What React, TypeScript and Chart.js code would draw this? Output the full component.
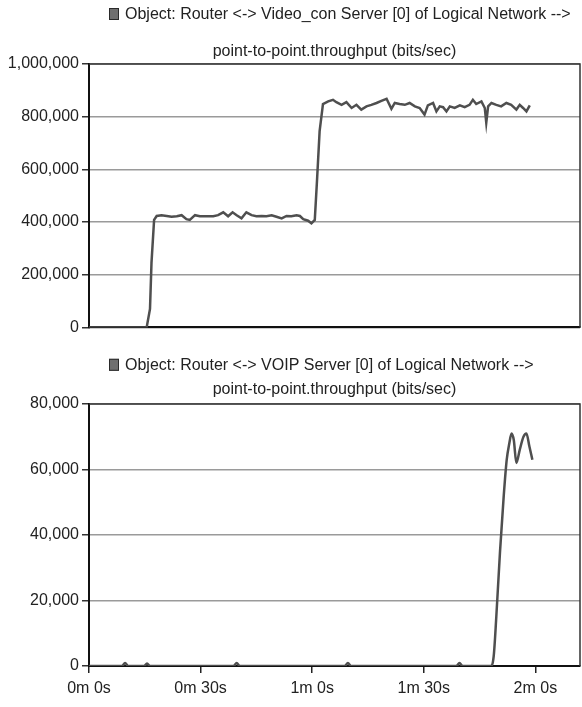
import React, { useEffect, useRef } from "react";
import { Chart, registerables } from "chart.js";

Chart.register(...registerables);

const FONT = "'Liberation Sans', Arial, sans-serif";

// ---- data ----
const videoLegend = "Object: Router <-> Video_con Server [0] of Logical Network -->";
const voipLegend = "Object: Router <-> VOIP Server [0] of Logical Network -->";
const statTitle = "point-to-point.throughput (bits/sec)";

const timeTicks = [0, 30, 60, 90, 120];
const videoYTicks = [0, 200000, 400000, 600000, 800000, 1000000];
const voipYTicks = [0, 20000, 40000, 60000, 80000];

const videoTimes = [
  0, 5, 10, 15.5, 16.4, 16.8, 17.5, 18.2, 19.5, 20.9, 22.2, 23.6, 24.9, 26.2, 27.1, 28.5, 29.8,
  31.6, 33.4, 34.7, 36.1, 37.4, 38.6, 39.7, 41.0, 42.3, 43.7, 45.0, 46.4, 47.7, 49.1, 50.4,
  51.8, 53.1, 54.4, 55.8, 56.7, 57.6, 58.9, 59.8, 60.7, 61.3, 62.0, 62.9, 64.3, 65.6, 66.5,
  67.9, 69.2, 70.6, 71.9, 73.2, 74.6, 75.9, 77.3, 78.6, 80.0, 81.3, 82.2, 83.5, 84.9, 86.2,
  87.6, 88.9, 90.2, 91.1, 92.5, 93.4, 94.3, 95.2, 96.1, 97.0, 98.3, 99.7, 101.0, 102.3, 103.2,
  104.1, 105.5, 106.4, 106.8, 107.3, 108.2, 109.5, 110.8, 112.2, 113.5, 114.9, 115.8, 116.7,
  117.6, 118.5,
];
const videoValues = [
  0, 0, 0, 0, 70000, 245000, 408000, 423000, 426000, 423000, 420000, 422000, 426000, 411000,
  408000, 426000, 422000, 422000, 422000, 426000, 437000, 422000, 437000, 426000, 414000,
  437000, 426000, 422000, 423000, 422000, 426000, 420000, 414000, 423000, 422000, 426000,
  423000, 411000, 405000, 395000, 408000, 558000, 745000, 848000, 858000, 864000, 855000,
  845000, 855000, 833000, 845000, 827000, 839000, 845000, 852000, 860000, 868000, 830000,
  852000, 848000, 845000, 852000, 839000, 833000, 808000, 843000, 852000, 820000, 839000,
  836000, 820000, 839000, 833000, 843000, 836000, 845000, 864000, 848000, 858000, 833000,
  777000, 839000, 852000, 845000, 839000, 852000, 845000, 827000, 845000, 833000, 820000,
  843000,
];

const voipTimes = [
  0, 8.9, 9.7, 10.5, 14.8, 15.6, 16.4, 38.9, 39.7, 40.5, 68.8, 69.6, 70.4, 98.8, 99.6, 100.4,
  108.0, 108.8, 109.5, 110.5, 111.5, 112.3, 113.0, 113.6, 114.2, 114.9, 115.8, 116.8, 117.6,
  118.4, 119.2,
];
const voipValues = [
  0, 0, 900, 0, 0, 700, 0, 0, 900, 0, 0, 900, 0, 0, 900, 0,
  0, 3000, 15000, 35000, 52000, 63000, 68000, 71000, 69000, 62000, 66000, 70000, 71000,
  67000, 63000,
];

const X_MAX = 132;

// ---- plugins ----
const headerPlugin = {
  id: "opnetHeader",
  afterDraw(chart: any, _args: any, opts: any) {
    const { ctx, chartArea } = chart;
    ctx.save();
    const x0 = chartArea.left + opts.offsetX;
    const y = opts.y;
    ctx.fillStyle = "#6f6f6f";
    ctx.fillRect(x0, y - 6.5, 10, 12);
    ctx.strokeStyle = "#2a2a2a";
    ctx.lineWidth = 1;
    ctx.strokeRect(x0 + 0.5, y - 6, 9, 11);
    ctx.font = `16px ${FONT}`;
    ctx.fillStyle = "#222";
    ctx.textAlign = "left";
    ctx.textBaseline = "middle";
    ctx.fillText(opts.text, x0 + 16, y);
    ctx.restore();
  },
};

const framePlugin = {
  id: "plotFrame",
  afterDraw(chart: any) {
    const { ctx, chartArea } = chart;
    const { left, right, top, bottom } = chartArea;
    ctx.save();
    ctx.strokeStyle = "#333";
    ctx.lineWidth = 1.5;
    ctx.beginPath();
    ctx.moveTo(left, top);
    ctx.lineTo(right, top);
    ctx.lineTo(right, bottom);
    ctx.stroke();
    ctx.restore();
  },
};

function buildConfig(p: {
  times: number[];
  values: number[];
  yTicks: number[];
  legend: string;
  legendY: number;
  titlePadTop: number;
  titlePadBottom: number;
  showXLabels: boolean;
  smooth: boolean;
  padBottom: number;
}) {
  const points = p.times.map((t, i) => ({ x: t, y: p.values[i] }));
  const yMax = p.yTicks[p.yTicks.length - 1];
  return {
    type: "line",
    data: {
      datasets: [
        {
          label: p.legend,
          data: points,
          borderColor: "#4f4f4f",
          borderWidth: 2.5,
          pointRadius: 0,
          fill: false,
          tension: 0,
          cubicInterpolationMode: p.smooth ? "monotone" : "default",
        },
      ],
    },
    options: {
      responsive: false,
      animation: false,
      layout: { padding: { left: 0, right: 2, top: 0, bottom: p.padBottom } },
      plugins: {
        legend: { display: false },
        tooltip: { enabled: false },
        title: {
          display: true,
          text: statTitle,
          fullSize: false,
          color: "#222",
          font: { family: FONT, size: 16, weight: "normal", lineHeight: 1.2 },
          padding: { top: p.titlePadTop, bottom: p.titlePadBottom },
        },
        opnetHeader: { text: p.legend, y: p.legendY, offsetX: 20 },
      },
      scales: {
        x: {
          type: "linear",
          min: 0,
          max: X_MAX,
          afterBuildTicks: (scale: any) => {
            scale.ticks = timeTicks.map((v) => ({ value: v }));
          },
          grid: {
            display: p.showXLabels,
            drawOnChartArea: false,
            drawTicks: p.showXLabels,
            tickLength: 7,
            color: "#222",
            lineWidth: 1.5,
          },
          border: { display: true, color: "#111", width: 2 },
          ticks: {
            display: p.showXLabels,
            padding: 6,
            maxRotation: 0,
            autoSkip: false,
            color: "#222",
            font: { family: FONT, size: 16, lineHeight: 1.2 },
            callback: (v: any) => `${Math.floor(Number(v) / 60)}m ${Number(v) % 60}s`,
          },
        },
        y: {
          type: "linear",
          min: 0,
          max: yMax,
          afterFit: (scale: any) => {
            scale.width = 89;
          },
          afterBuildTicks: (scale: any) => {
            scale.ticks = p.yTicks.map((v) => ({ value: v }));
          },
          grid: {
            color: "#9a9a9a",
            lineWidth: 1.5,
            tickLength: 7,
            tickColor: "#333",
          },
          border: { display: true, color: "#111", width: 2 },
          ticks: {
            padding: 3,
            color: "#222",
            font: { family: FONT, size: 16, lineHeight: 1.2 },
            callback: (v: any) => Number(v).toLocaleString("en-US"),
          },
        },
      },
    },
    plugins: [headerPlugin, framePlugin],
  } as any;
}

function ChartCanvas(props: { config: any; top: number; height: number }) {
  const ref = useRef<HTMLCanvasElement | null>(null);
  useEffect(() => {
    if (!ref.current) return;
    const chart = new Chart(ref.current, props.config);
    return () => chart.destroy();
  }, []);
  return (
    <canvas
      ref={ref}
      width={582}
      height={props.height}
      style={{ position: "absolute", left: 0, top: props.top, width: 582, height: props.height }}
    />
  );
}

export default function App() {
  const topConfig = buildConfig({
    times: videoTimes,
    values: videoValues,
    yTicks: videoYTicks,
    legend: videoLegend,
    legendY: 14.5,
    titlePadTop: 41.9,
    titlePadBottom: 2.9,
    showXLabels: false,
    smooth: false,
    padBottom: 8,
  });
  const bottomConfig = buildConfig({
    times: voipTimes,
    values: voipValues,
    yTicks: voipYTicks,
    legend: voipLegend,
    legendY: 25.3,
    titlePadTop: 39.7,
    titlePadBottom: 5.1,
    showXLabels: true,
    smooth: true,
    padBottom: 2.9,
  });
  return (
    <div style={{ position: "absolute", left: 0, top: 0, width: 582, height: 707, background: "#fff" }}>
      <ChartCanvas config={topConfig} top={0} height={340} />
      <ChartCanvas config={bottomConfig} top={340} height={367} />
    </div>
  );
}
